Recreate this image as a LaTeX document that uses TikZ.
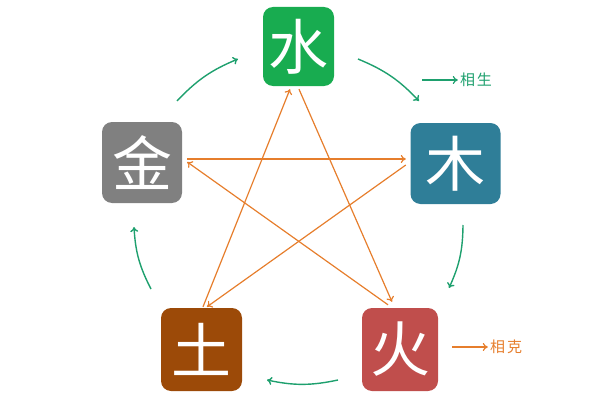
\documentclass[tikz,border=0pt]{standalone}
\usepackage{fontspec}
\newfontfamily\cjk{Noto Sans CJK SC}
\usetikzlibrary{arrows.meta}
\definecolor{shuigreen}{RGB}{24,172,80}
\definecolor{muteal}{RGB}{47,126,152}
\definecolor{jingray}{RGB}{128,128,128}
\definecolor{tubrown}{RGB}{156,74,8}
\definecolor{huored}{RGB}{192,78,76}
\definecolor{shenggreen}{RGB}{30,160,110}
\definecolor{keorange}{RGB}{230,126,44}

\begin{document}
\begin{tikzpicture}[x=1pt,y=1pt]
 \tikzstyle{elem}=[rounded corners=10pt,text=white,inner sep=0pt,font=\cjk\fontsize{60}{60}\selectfont]
 \tikzstyle{sheng}=[-{To[length=5pt,width=8pt]},line width=1.4pt,draw=shenggreen]
 \tikzstyle{ke}=[-{To[length=5pt,width=8pt]},line width=1.2pt,draw=keorange]
 \tikzstyle{legend}=[font=\cjk\fontsize{15}{15}\selectfont,inner sep=2pt]
 \useasboundingbox (0,0) rectangle (600,400);
 \node[elem,fill=shuigreen,minimum width=71pt,minimum height=79pt] (Shui) at (298.5,353.5) {水};
 \node[elem,fill=muteal,minimum width=90pt,minimum height=81pt] (Mu) at (455.5,236.5) {木};
 \node[elem,fill=huored,minimum width=76pt,minimum height=83pt] (Huo) at (400,50.5) {火};
 \node[elem,fill=tubrown,minimum width=81pt,minimum height=83pt] (Tu) at (201.5,50.5) {土};
 \node[elem,fill=jingray,minimum width=80pt,minimum height=81pt] (Jin) at (142,237.5) {金};
 % sheng cycle
 \coordinate (s1) at (177,299); \coordinate (e1) at (238,341);
 \coordinate (s2) at (358,341); \coordinate (e2) at (419,299);
 \coordinate (s3) at (463,175); \coordinate (e3) at (449,112);
 \coordinate (s4) at (338,20);  \coordinate (e4) at (267,20);
 \coordinate (s5) at (151,111); \coordinate (e5) at (134,173);
 \draw[sheng] (s1) to[bend left=12] (e1);
 \draw[sheng] (s2) to[bend left=12] (e2);
 \draw[sheng] (s3) to[bend left=12] (e3);
 \draw[sheng] (s4) to[bend left=12] (e4);
 \draw[sheng] (s5) to[bend left=12] (e5);
 % ke star
 \draw[ke] ([xshift=1.5pt,yshift=1pt]Tu.north) -- ([xshift=-8.5pt,yshift=-3pt]Shui.south);
 \draw[ke] ([xshift=0.5pt,yshift=-3pt]Shui.south) -- ([xshift=-8pt,yshift=6pt]Huo.north);
 \draw[ke] ([xshift=-12pt,yshift=3pt]Huo.north) -- ([xshift=5pt,yshift=0.5pt]Jin.east);
 \draw[ke] ([xshift=5pt,yshift=3.5pt]Jin.east) -- ([xshift=-4.5pt,yshift=4.5pt]Mu.west);
 \draw[ke] ([xshift=-4.5pt,yshift=-1.5pt]Mu.west) -- ([xshift=5.5pt,yshift=1pt]Tu.north);
 % legend
 \node[legend,text=shenggreen] (legsheng) at (476,320) {相\hspace{2pt}生};
 \coordinate (l1) at (422,320);
 \draw[sheng,line width=1.2pt] (l1) -- (legsheng.west);
 \node[legend,text=keorange] (legke) at (506,53) {相\hspace{2pt}克};
 \coordinate (l2) at (452,53);
 \draw[ke] (l2) -- (legke.west);
\end{tikzpicture}
\end{document}
